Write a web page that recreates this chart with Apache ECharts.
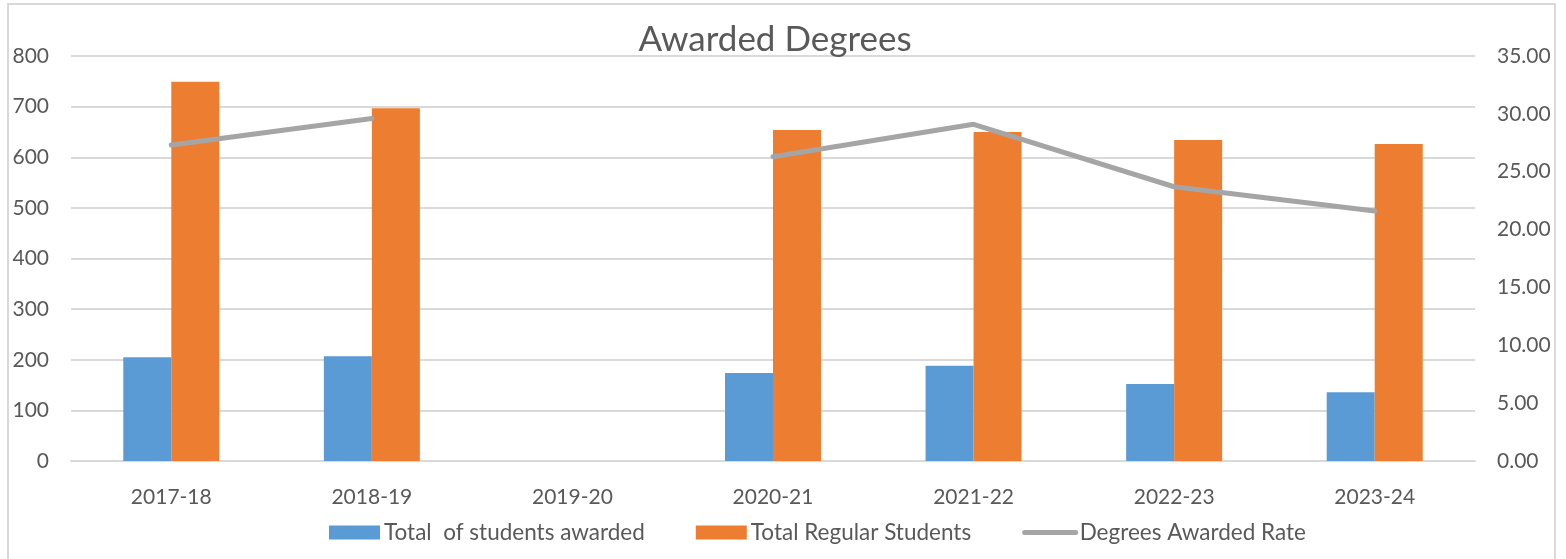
<!DOCTYPE html>
<html>
<head>
<meta charset="utf-8">
<script src="https://cdn.jsdelivr.net/npm/echarts@6/dist/echarts.min.js"></script>
<style>
  html, body { margin: 0; padding: 0; background: #fff; }
  #chart { width: 1566px; height: 559px; }
</style>
</head>
<body>
<div id="chart"></div>
<script>
const years = ["2017-18", "2018-19", "2019-20", "2020-21", "2021-22", "2022-23", "2023-24"];
const awarded = [205, 207, null, 174, 188, 152, 136];
const regular = [749, 697, null, 654, 650, 634, 626];
const rate = [27.3, 29.6, null, 26.3, 29.1, 23.7, 21.6];

const textColor = "#595959";
const font = "Lato, 'Open Sans', sans-serif";

const chart = echarts.init(document.getElementById("chart"));

chart.setOption({
  animation: false,
  textStyle: { fontFamily: font },
  title: {
    text: "Awarded Degrees",
    left: 770,
    textAlign: "center",
    top: 17,
    textStyle: { fontSize: 35, fontWeight: "normal", color: textColor, fontFamily: font }
  },
  graphic: [{
    type: "rect",
    shape: { x: 8, y: 4, width: 1547, height: 560 },
    style: { fill: "none", stroke: "#d9d9d9", lineWidth: 2 },
    silent: true
  }],
  legend: {
    bottom: 15,
    left: 329,
    padding: 0,
    itemWidth: 51,
    itemHeight: 14,
    itemGap: 51,
    textStyle: { fontSize: 22.5, color: textColor, fontFamily: font, padding: [0, 0, 0, -1] },
    data: [
      { name: "Total  of students awarded", icon: "rect" },
      { name: "Total Regular Students", icon: "rect" },
      { name: "Degrees Awarded Rate", itemStyle: { opacity: 0 }, lineStyle: { width: 5, cap: "round", color: "#a5a5a5" } }
    ]
  },
  grid: { left: 71, right: 91, top: 56, bottom: 98 },
  xAxis: {
    type: "category",
    data: years,
    axisLine: { lineStyle: { color: "#d9d9d9", width: 2 } },
    axisTick: { show: false },
    axisLabel: { fontSize: 21, color: textColor, margin: 26 }
  },
  yAxis: [
    {
      type: "value",
      min: 0, max: 800, interval: 100,
      axisLine: { show: false },
      axisTick: { show: false },
      splitLine: { lineStyle: { color: "#d9d9d9", width: 2 } },
      axisLabel: { fontSize: 21, color: textColor, margin: 22 }
    },
    {
      type: "value",
      min: 0, max: 35, interval: 5,
      axisLine: { show: false },
      axisTick: { show: false },
      splitLine: { show: false },
      axisLabel: { fontSize: 21, color: textColor, margin: 22, formatter: v => v.toFixed(2) }
    }
  ],
  series: [
    {
      name: "Total  of students awarded",
      type: "bar",
      data: awarded,
      barWidth: 48,
      barGap: "0%",
      itemStyle: { color: "#5b9bd5" }
    },
    {
      name: "Total Regular Students",
      type: "bar",
      data: regular,
      barWidth: 48,
      itemStyle: { color: "#ed7d31" }
    },
    {
      name: "Degrees Awarded Rate",
      type: "line",
      yAxisIndex: 1,
      data: rate,
      connectNulls: false,
      symbol: "none",
      lineStyle: { color: "#a5a5a5", width: 5, cap: "round" },
      itemStyle: { color: "#a5a5a5" }
    }
  ]
});
</script>
</body>
</html>
